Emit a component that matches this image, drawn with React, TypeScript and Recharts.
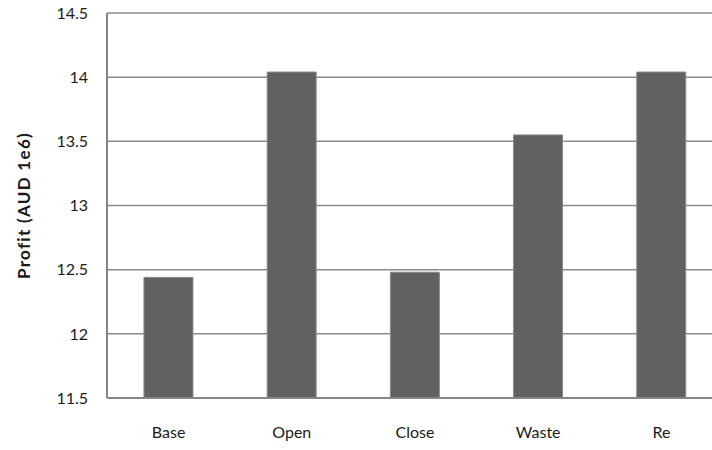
import { Bar, BarChart, CartesianGrid, XAxis, YAxis } from 'recharts'

const scenarios = ['Base', 'Open', 'Close', 'Waste', 'Re']
const profit = [12.44, 14.04, 12.48, 13.55, 14.04]
const profitTicks = [11.5, 12, 12.5, 13, 13.5, 14, 14.5]

const data = scenarios.map((name, i) => ({ name, profit: profit[i] }))

const font = 'Lato, "Open Sans", sans-serif'
const tickStyle = { fill: '#1a1a1a', fontSize: 16, fontFamily: font }

export default function App() {
    return (
        <div style={{ position: 'fixed', left: 0, top: 0, width: 712, height: 450, overflow: 'hidden', background: '#fff' }}>
            <BarChart
                width={730}
                height={450}
                data={data}
                margin={{ top: 13, right: 7, bottom: 12, left: 0 }}
                barCategoryGap="30%"
            >
                <CartesianGrid horizontal={true} vertical={false} stroke="#8c8c8c" strokeWidth={1.5} />
                <XAxis
                    dataKey="name"
                    height={40}
                    stroke="#868686"
                    strokeWidth={2}
                    tickLine={false}
                    tickMargin={23}
                    tick={tickStyle}
                />
                <YAxis
                    width={107}
                    domain={[11.5, 14.5]}
                    ticks={profitTicks}
                    stroke="#868686"
                    strokeWidth={2}
                    tickLine={false}
                    tickSize={0}
                    tickMargin={19}
                    tick={tickStyle}
                    label={{
                        value: 'Profit (AUD 1e6)',
                        angle: -90,
                        position: 'insideLeft',
                        offset: 24,
                        style: {
                            textAnchor: 'middle',
                            fontWeight: 'bold',
                            fontSize: 17,
                            letterSpacing: 1.3,
                            fontFamily: font,
                            fill: '#1a1a1a'
                        }
                    }}
                />
                <Bar dataKey="profit" fill="#616161" stroke="#8a8a8a" strokeWidth={1} isAnimationActive={false} />
            </BarChart>
        </div>
    )
}
